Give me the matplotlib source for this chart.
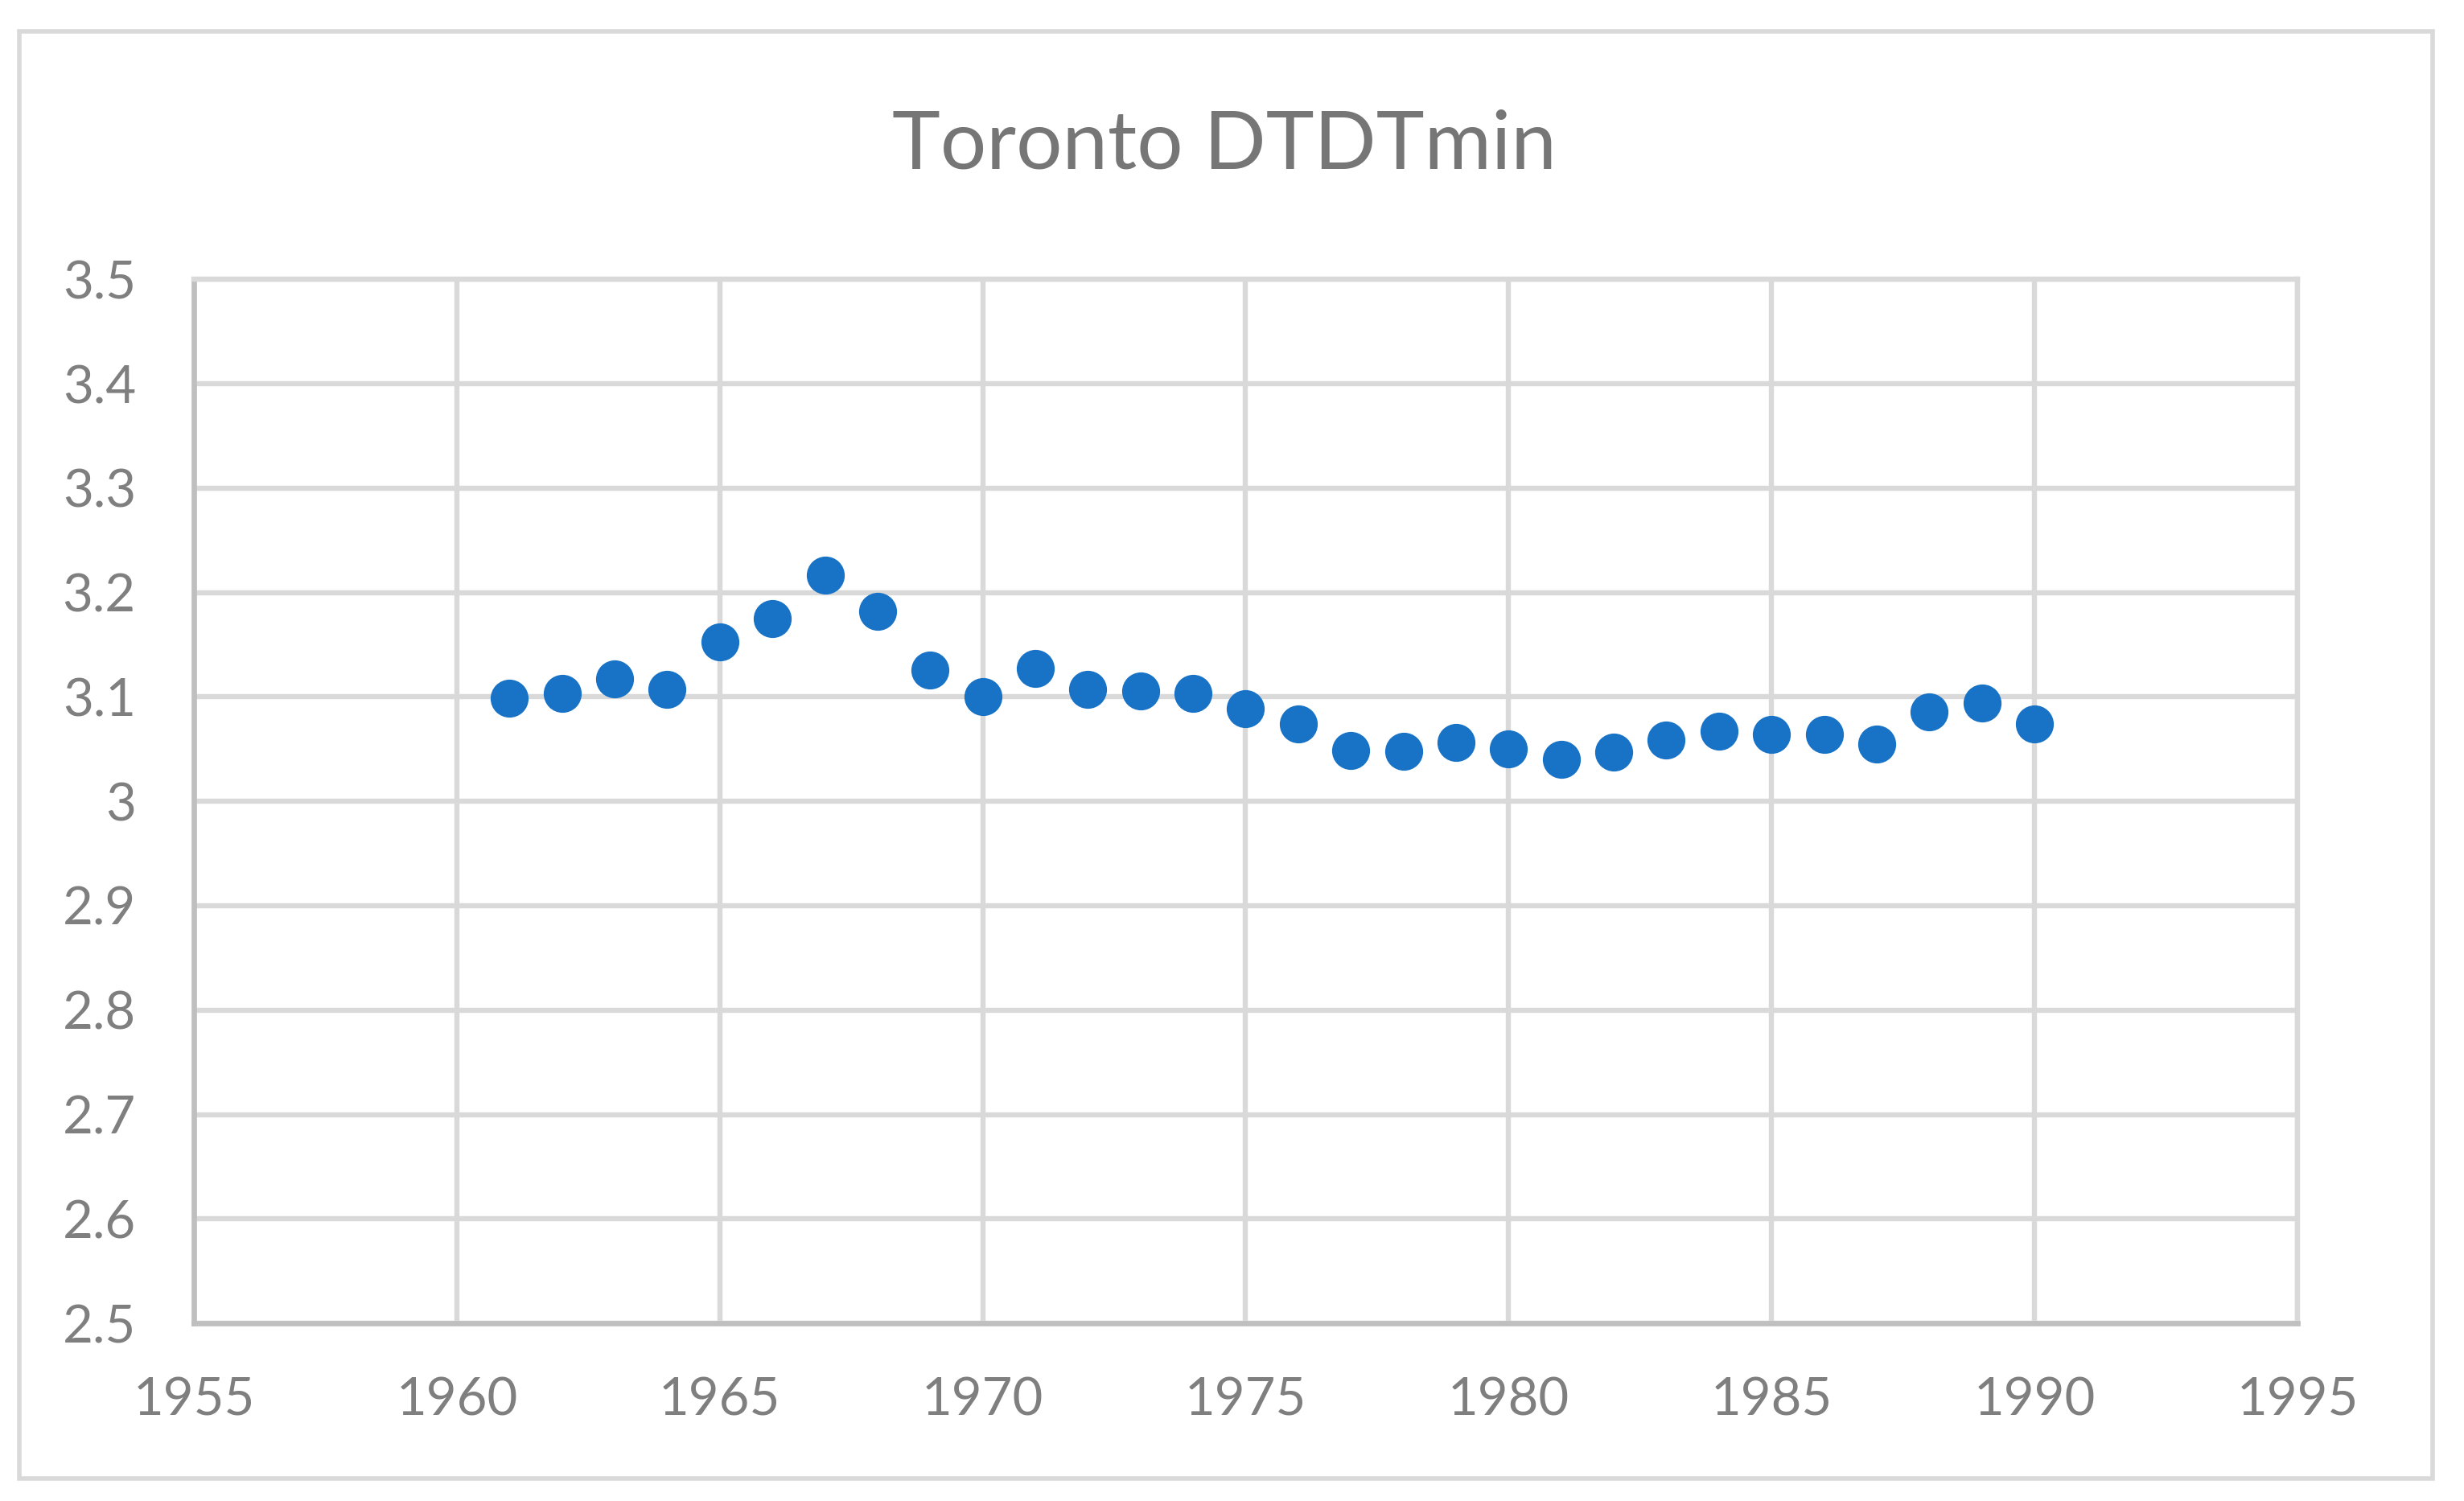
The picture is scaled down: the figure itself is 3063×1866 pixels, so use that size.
import matplotlib.pyplot as plt
from matplotlib.patches import Rectangle

# Toronto DTDTmin, one value per year
years = [1961, 1962, 1963, 1964, 1965, 1966, 1967, 1968, 1969, 1970,
         1971, 1972, 1973, 1974, 1975, 1976, 1977, 1978, 1979, 1980,
         1981, 1982, 1983, 1984, 1985, 1986, 1987, 1988, 1989, 1990]
dtdt_min = [3.099, 3.103, 3.117, 3.107, 3.153, 3.175, 3.217, 3.182, 3.126, 3.100,
            3.127, 3.107, 3.106, 3.103, 3.089, 3.074, 3.049, 3.048, 3.056, 3.050,
            3.040, 3.047, 3.059, 3.067, 3.064, 3.064, 3.055, 3.086, 3.094, 3.074]

x_ticks = [1955, 1960, 1965, 1970, 1975, 1980, 1985, 1990, 1995]
y_ticks = [2.5, 2.6, 2.7, 2.8, 2.9, 3.0, 3.1, 3.2, 3.3, 3.4, 3.5]
y_labels = ['2.5', '2.6', '2.7', '2.8', '2.9', '3', '3.1', '3.2', '3.3', '3.4', '3.5']

plt.rcParams['font.family'] = ['Lato', 'DejaVu Sans']
text_grey = '#7F7F7F'
grid_grey = '#D9D9D9'
axis_grey = '#BFBFBF'

fig = plt.figure(figsize=(15.315, 9.33), dpi=200)
ax = fig.add_axes([0.0787, 0.1184, 0.8537, 0.6955])

# outer chart border
fig.patches.append(Rectangle((0.0077, 0.015), 0.9795, 0.9639, transform=fig.transFigure,
                             fill=False, edgecolor=grid_grey, linewidth=2.0))

ax.plot(years, dtdt_min, linestyle='none', marker='o', markersize=17,
        color='#1873C6', markeredgewidth=0, zorder=3)

ax.set_xlim(1955, 1995)
ax.set_ylim(2.5, 3.5)
ax.set_xticks(x_ticks)
ax.set_xticklabels([str(t) for t in x_ticks])
ax.set_yticks(y_ticks)
ax.set_yticklabels(y_labels)
ax.grid(True, color=grid_grey, linewidth=2.3, zorder=0)
ax.set_axisbelow(True)

for side in ['top', 'right']:
    ax.spines[side].set_color(grid_grey)
    ax.spines[side].set_linewidth(2.3)
for side in ['left', 'bottom']:
    ax.spines[side].set_color(axis_grey)
    ax.spines[side].set_linewidth(2.4)

ax.tick_params(axis='both', length=0, labelsize=23.5, labelcolor=text_grey)
ax.tick_params(axis='x', pad=24)
ax.tick_params(axis='y', pad=26)

fig.text(0.497, 0.903, 'Toronto DTDTmin', ha='center', va='center',
         fontsize=36.5, color='#767676')

fig.savefig('out.png', dpi=200)
